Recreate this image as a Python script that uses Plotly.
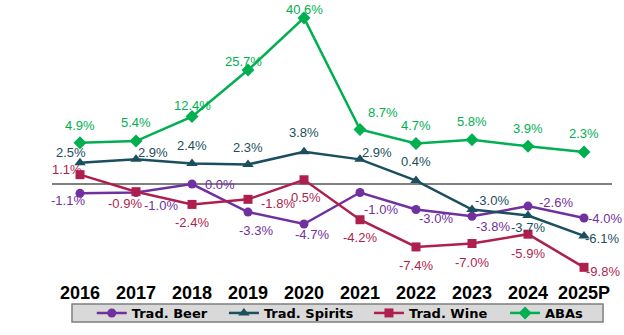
import plotly.graph_objects as go

# Year-over-year volume change by category (%)
years = ["2016", "2017", "2018", "2019", "2020", "2021", "2022", "2023", "2024", "2025P"]
beer = [-1.1, -1.0, 0.0, -3.3, -4.7, -1.0, -3.0, -3.8, -2.6, -4.0]
spirits = [2.5, 2.9, 2.4, 2.3, 3.8, 2.9, 0.4, -3.0, -3.7, -6.1]
wine = [1.1, -0.9, -2.4, -1.8, 0.5, -4.2, -7.4, -7.0, -5.9, -9.8]
abas = [4.9, 5.4, 12.4, 25.7, 40.6, 8.7, 4.7, 5.8, 3.9, 2.3]

# Label nudges in pixels (dx, dy) relative to each point
beer_off = [(-12, -7), (25, -13), (28, 0), (8, -18), (8, -11), (21, -17), (20, -9), (21, -10), (28, 4), (21, 0)]
spirits_off = [(-9, 10), (17, 7), (0, 18), (0, 17), (0, 19), (17, 7), (0, 19), (20, 9), (0, -12), (18, -3)]
wine_off = [(-13, 5), (-11, -12), (0, -18), (30, -4), (2, -18), (0, -18), (0, -19), (0, -19), (0, -19), (19, -4)]
aba_off = [(0, 17), (0, 19), (0, 11), (-5, 9), (0, 8), (23, 17), (0, 18), (0, 18), (0, 18), (0, 18)]

C_BEER = "#7030A0"
C_SPIRITS = "#1B4F5E"
C_WINE = "#AE1F4E"
C_ABA = "#00B050"

LABEL_FONT = "Liberation Sans, Arial, sans-serif"
LEGEND_FONT = dict(family="DejaVu Sans", size=13, color="black", weight="bold")

# (name, values, colour, marker, size, y axis, label offsets, legend id, legend x)
series = [
    ("Trad. Beer", beer, C_BEER, "circle", 9, "y", beer_off, "legend", 0.071),
    ("Trad. Spirits", spirits, C_SPIRITS, "triangle-up", 10, "y", spirits_off, "legend2", 0.307),
    ("Trad. Wine", wine, C_WINE, "square", 9, "y", wine_off, "legend3", 0.566),
    ("ABAs", abas, C_ABA, "diamond", 10, "y2", aba_off, "legend4", 0.809),
]

fig = go.Figure()
annotations = []
legends = {}
for name, vals, color, symbol, size, yax, offs, leg, legx in series:
    fig.add_trace(go.Scatter(
        x=years, y=vals, name=name, mode="lines+markers", yaxis=yax,
        line=dict(color=color, width=2.5),
        marker=dict(symbol=symbol, size=size, color=color),
        hoverinfo="skip", legend=leg,
    ))
    legends[leg] = dict(
        orientation="h", x=legx, xanchor="left", y=-0.1222, yanchor="middle",
        bgcolor="rgba(0,0,0,0)", borderwidth=0, font=LEGEND_FONT, itemsizing="trace",
    )
    # category index positions the label on the category axis
    for i, (v, (dx, dy)) in enumerate(zip(vals, offs)):
        annotations.append(dict(
            x=i, y=v, xref="x", yref=yax, text=f"{v:.1f}%",
            showarrow=False, xanchor="center", yanchor="middle",
            xshift=dx, yshift=dy,
            font=dict(family=LABEL_FONT, size=13, color=color),
        ))

# Grey legend panel
shapes = [dict(
    type="rect", xref="paper", yref="paper",
    x0=0.0357, x1=0.984, y0=-0.1556, y1=-0.0889,
    fillcolor="#D9D9D9", line=dict(color="#7F7F7F", width=1.5), layer="below",
)]

fig.update_layout(
    width=624, height=335,
    margin=dict(l=52, r=12, t=10, b=55, autoexpand=False),
    paper_bgcolor="white", plot_bgcolor="white",
    showlegend=True,
    xaxis=dict(
        type="category", range=[-0.5, 9.5], showgrid=False, showline=False, ticks="",
        tickfont=dict(family=LABEL_FONT, size=18, color="black", weight="bold"),
    ),
    yaxis=dict(
        range=[-11.29, 20.47], showgrid=False, showticklabels=False,
        zeroline=True, zerolinecolor="#808080", zerolinewidth=1.5,
    ),
    yaxis2=dict(
        range=[-34.29, 42.86], overlaying="y", side="right", visible=False,
        showgrid=False, zeroline=False,
    ),
    shapes=shapes,
    annotations=annotations,
    **legends,
)

fig.write_html("out.html")
